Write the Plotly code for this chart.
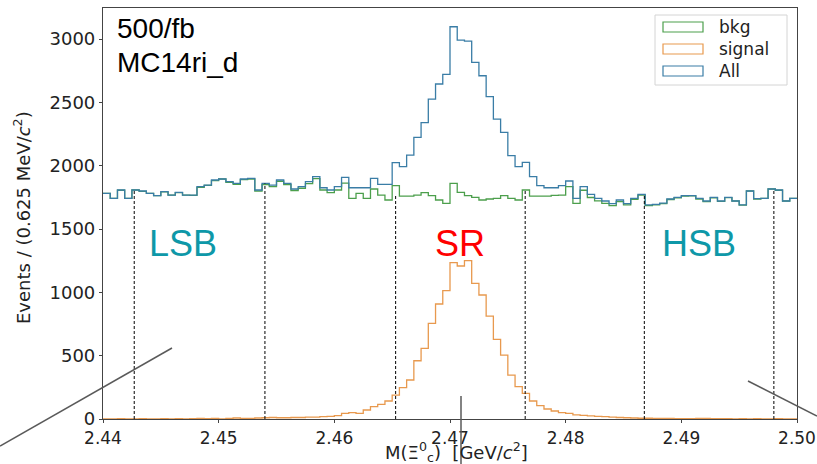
import numpy as np
import plotly.graph_objects as go

# ---------------- data ----------------
x_min = 2.44
x_max = 2.50
bin_width = 0.000625          # GeV (0.625 MeV)
n_bins = 96

all_counts = [
    1782, 1742, 1808, 1742, 1808, 1800, 1782, 1763, 1795, 1768,
    1790, 1768, 1768, 1834, 1847, 1887, 1895, 1874, 1860, 1895,
    1900, 1808, 1860, 1847, 1887, 1860, 1816, 1834, 1874, 1913,
    1826, 1808, 1834, 1908, 1826, 1826, 1826, 1900, 1853, 1853,
    2024, 1992, 2084, 2224, 2340, 2526, 2645, 2721, 3097, 2992,
    2984, 2816, 2710, 2545, 2368, 2263, 2079, 1992, 2026, 1913,
    1842, 1826, 1826, 1842, 1879, 1742, 1834, 1774, 1742, 1721,
    1700, 1729, 1700, 1742, 1774, 1690, 1695, 1705, 1737, 1750,
    1763, 1763, 1742, 1721, 1750, 1721, 1750, 1721, 1690, 1800,
    1740, 1742, 1816, 1808, 1721, 1742,
]

signal_counts = [
    0, 0, 2, 0, 0, 3, 0, 0, 2, 0,
    3, 0, 2, 5, 3, 5, 0, 5, 8, 5,
    5, 8, 10, 12, 10, 10, 12, 12, 15, 15,
    18, 20, 26, 45, 50, 45, 71, 97, 116, 142,
    189, 247, 308, 460, 558, 755, 908, 1013, 1234, 1208,
    1250, 1071, 979, 813, 629, 505, 347, 255, 203, 142,
    105, 79, 63, 50, 45, 32, 28, 25, 20, 18,
    15, 12, 10, 8, 6, 6, 5, 5, 4, 3,
    3, 2, 5, 4, 3, 2, 2, 0, 2, 0,
    3, 0, 0, 2, 0, 0,
]

bkg_counts = [
    1782, 1742, 1806, 1742, 1808, 1797, 1782, 1763, 1793, 1768,
    1787, 1768, 1766, 1829, 1844, 1882, 1895, 1869, 1852, 1890,
    1895, 1800, 1850, 1835, 1877, 1850, 1804, 1822, 1859, 1898,
    1808, 1788, 1808, 1863, 1742, 1782, 1742, 1816, 1768, 1729,
    1842, 1760, 1760, 1768, 1787, 1763, 1729, 1703, 1861, 1790,
    1763, 1750, 1729, 1737, 1742, 1763, 1742, 1729, 1808, 1760,
    1760, 1760, 1766, 1768, 1834, 1703, 1806, 1749, 1722, 1703,
    1685, 1717, 1690, 1734, 1768, 1684, 1690, 1700, 1733, 1747,
    1760, 1761, 1737, 1717, 1747, 1719, 1748, 1721, 1688, 1800,
    1737, 1742, 1816, 1806, 1721, 1742,
]

# region boundaries (dashed lines) and the height each line reaches
region_edges = [2.4427, 2.4540, 2.4653, 2.4765, 2.4868, 2.4980]
region_line_tops = [1808, 1860, 1770, 1805, 1774, 1808]

x_tick_vals = [2.44, 2.45, 2.46, 2.47, 2.48, 2.49, 2.50]
x_tick_text = ["2.44", "2.45", "2.46", "2.47", "2.48", "2.49", "2.50"]
y_tick_vals = [0, 500, 1000, 1500, 2000, 2500, 3000]

series_names = ["bkg", "signal", "All"]
series_colors = ["#4c9f4c", "#e8994e", "#3a7da6"]

# ---------------- figure ----------------
W, H = 817, 464
L, R, T, B = 103, 20, 8, 45
PW, PH = W - L - R, H - T - B


def px(x):
    return (x - L) / PW


def py(y):
    return (H - B - y) / PH


edges = np.linspace(x_min, x_max, n_bins + 1)


def step_xy(counts):
    c = np.asarray(counts, dtype=float)
    ys = np.concatenate([c, [c[-1]]])
    return edges, ys


fig = go.Figure()
for name, counts, color in zip(series_names, [bkg_counts, signal_counts, all_counts], series_colors):
    xs, ys = step_xy(counts)
    fig.add_trace(go.Scatter(x=xs, y=ys, mode="lines", line=dict(color=color, width=1.3, shape="hv"),
                             name=name, showlegend=False, hoverinfo="skip"))

shapes = []
for xe, top in zip(region_edges, region_line_tops):
    shapes.append(dict(type="line", xref="x", yref="y", x0=xe, x1=xe, y0=0, y1=top,
                       line=dict(color="black", width=1, dash="3px,2px")))

# gray stray lines from the original screenshot
gray = dict(color="#5a5a5a", width=1.5)
shapes.append(dict(type="line", xref="paper", yref="paper", x0=px(0), y0=py(446), x1=px(172), y1=py(348), line=gray))
shapes.append(dict(type="line", xref="paper", yref="paper", x0=px(748), y0=py(381), x1=px(817), y1=py(416), line=gray))
shapes.append(dict(type="line", xref="paper", yref="paper", x0=px(461), y0=py(396), x1=px(461), y1=py(464), line=gray))

# manual legend (matplotlib-style patches)
shapes.append(dict(type="rect", xref="paper", yref="paper", x0=px(655), x1=px(787), y0=py(85), y1=py(15),
                   line=dict(color="#d4d4d4", width=1), fillcolor="rgba(255,255,255,0.8)"))
legend_rows = [(22, 32), (44, 54), (66, 76)]
annotations = []
for (y0, y1), name, color in zip(legend_rows, series_names, series_colors):
    shapes.append(dict(type="rect", xref="paper", yref="paper", x0=px(663), x1=px(703), y0=py(y1), y1=py(y0),
                       line=dict(color=color, width=1.2), fillcolor="rgba(0,0,0,0)"))
    annotations.append(dict(xref="paper", yref="paper", x=px(717), y=py((y0 + y1) / 2), text=name,
                            showarrow=False, xanchor="left", yanchor="middle",
                            font=dict(family="DejaVu Sans", size=17, color="#222")))

big = dict(family="Liberation Sans, Arial", color="black", size=28)
annotations += [
    dict(xref="paper", yref="paper", x=px(115), y=py(28), text="500/fb", showarrow=False,
         xanchor="left", yanchor="middle", font=big),
    dict(xref="paper", yref="paper", x=px(115), y=py(63), text="MC14ri_d", showarrow=False,
         xanchor="left", yanchor="middle", font=big),
    dict(xref="paper", yref="paper", x=px(183), y=py(243), text="LSB", showarrow=False,
         xanchor="center", yanchor="middle", font=dict(family="Liberation Sans, Arial", size=36, color="#0e98a8")),
    dict(xref="paper", yref="paper", x=px(460), y=py(243), text="SR", showarrow=False,
         xanchor="center", yanchor="middle", font=dict(family="Liberation Sans, Arial", size=36, color="#ff0000")),
    dict(xref="paper", yref="paper", x=px(699), y=py(243), text="HSB", showarrow=False,
         xanchor="center", yanchor="middle", font=dict(family="Liberation Sans, Arial", size=36, color="#0e98a8")),
    dict(xref="paper", yref="paper", x=px(456), y=py(452), showarrow=False, xanchor="center", yanchor="middle",
         text="M(Ξ<sup>0</sup><sub>c</sub>)  [GeV/<i>c</i><sup>2</sup>]",
         font=dict(family="DejaVu Sans", size=18, color="#222")),
    dict(xref="paper", yref="paper", x=px(22), y=py(218), showarrow=False, xanchor="center", yanchor="middle",
         textangle=-90, text="Events / (0.625 MeV/<i>c</i><sup>2</sup>)",
         font=dict(family="DejaVu Sans", size=18, color="#222")),
]

axis_common = dict(showgrid=False, zeroline=False, showline=True, mirror=True, linecolor="#444",
                   linewidth=1.2, ticks="outside", ticklen=3, tickcolor="#444", automargin=False,
                   layer="above traces")

fig.update_layout(
    width=W, height=H,
    margin=dict(l=L, r=R, t=T, b=B, autoexpand=False),
    paper_bgcolor="white", plot_bgcolor="white",
    showlegend=False,
    xaxis=dict(range=[x_min, x_max], tickvals=x_tick_vals, ticktext=x_tick_text,
               tickfont=dict(family="DejaVu Sans", size=17, color="#222"), **axis_common),
    yaxis=dict(range=[0, 3245], tickvals=y_tick_vals,
               tickfont=dict(family="DejaVu Sans", size=18, color="#222"), **axis_common),
    shapes=shapes,
    annotations=annotations,
)

fig.write_html("out.html")
